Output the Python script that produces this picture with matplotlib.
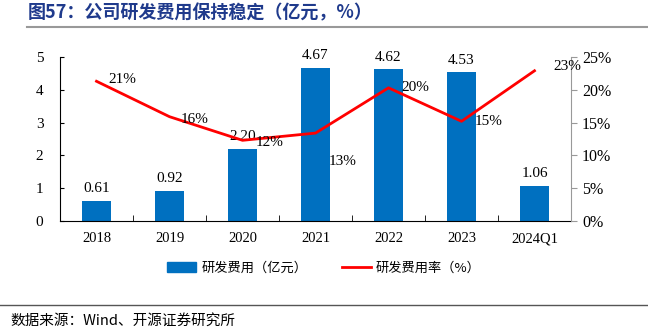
import numpy as np
import matplotlib.pyplot as plt
from matplotlib.lines import Line2D

plt.rcParams['font.family'] = ['Liberation Serif', 'Noto Sans CJK SC']

years = ['2018', '2019', '2020', '2021', '2022', '2023', '2024Q1']
rd_cost = [0.61, 0.92, 2.20, 4.67, 4.62, 4.53, 1.06]
rd_rate = [21.3, 15.9, 12.3, 13.4, 20.3, 15.2, 22.9]
rate_labels = ['21%', '16%', '12%', '13%', '20%', '15%', '23%']

fig = plt.figure(figsize=(6.48, 3.32), dpi=100)
ax = fig.add_axes([60/648, 1-221/332, 511/648, 164/332])
x = np.arange(len(years))

ax.bar(x, rd_cost, width=0.4, color='#0070C0', zorder=2)
for xi, v in zip(x, rd_cost):
    ax.text(xi, v + 0.18, '%.2f' % v, ha='center', va='bottom', fontsize=11)

ax.set_xlim(-0.5, len(years) - 0.5)
ax.set_ylim(0, 5)
ax.set_yticks(range(6))
ax.set_xticks(x)
ax.set_xticklabels(years, fontsize=10.5)
ax.set_xticks(np.arange(-0.5, len(years), 1), minor=True)
ax.tick_params(axis='x', which='major', length=0, pad=8)
ax.tick_params(axis='x', which='minor', length=4, direction='in')
ax.tick_params(axis='y', labelsize=11, length=3, direction='in', pad=12)
for s in ['top', 'right']:
    ax.spines[s].set_visible(False)

ax2 = ax.twinx()
ax2.plot(x, rd_rate, color='#FF0000', lw=2, zorder=3)
ax2.set_ylim(0, 25)
ax2.set_yticks(range(0, 26, 5))
ax2.set_yticklabels(['%d%%' % t for t in range(0, 26, 5)], fontsize=11.5)
ax2.tick_params(axis='y', length=4, color='#999999', pad=4)
for s in ['top', 'left', 'bottom']:
    ax2.spines[s].set_visible(False)
ax2.spines['right'].set_color('#999999')

offsets = [(0.35, 0.3), (0.35, -0.4), (0.37, -0.4), (0.37, -4.3), (0.37, 0.1), (0.37, -0.1), (0.45, 0.6)]
for xi, v, lab, (dx, dy) in zip(x, rd_rate, rate_labels, offsets):
    ax2.text(xi + dx, v + dy, lab, ha='center', va='center', fontsize=11)

handles = [plt.Rectangle((0, 0), 1, 1, color='#0070C0'),
           Line2D([0], [0], color='#FF0000', lw=2)]
fig.legend(handles, ['研发费用（亿元）', '研发费用率（%）'], loc='center',
           bbox_to_anchor=(0.5, 1-268/332), ncol=2, frameon=False,
           prop={'family': ['Noto Sans CJK SC'], 'size': 9.5},
           handlelength=2.2, handletextpad=0.4, columnspacing=2.6)

fig.text(28/648, 1-13/332, '图57：公司研发费用保持稳定（亿元，%）', fontsize=13,
         fontweight='bold', color='#1F3A8C', va='center',
         family=['Noto Sans CJK SC'])
fig.add_artist(Line2D([27/648, 1], [1-27/332, 1-27/332], color='#999999', lw=1.5))
fig.add_artist(Line2D([0, 1], [1-305/332, 1-305/332], color='#555555', lw=1))
fig.text(10/648, 1-321/332, '数据来源：Wind、开源证券研究所', fontsize=10.5, va='center',
         family=['Noto Sans CJK SC', 'DejaVu Sans'])

fig.savefig('out.png', dpi=100)
